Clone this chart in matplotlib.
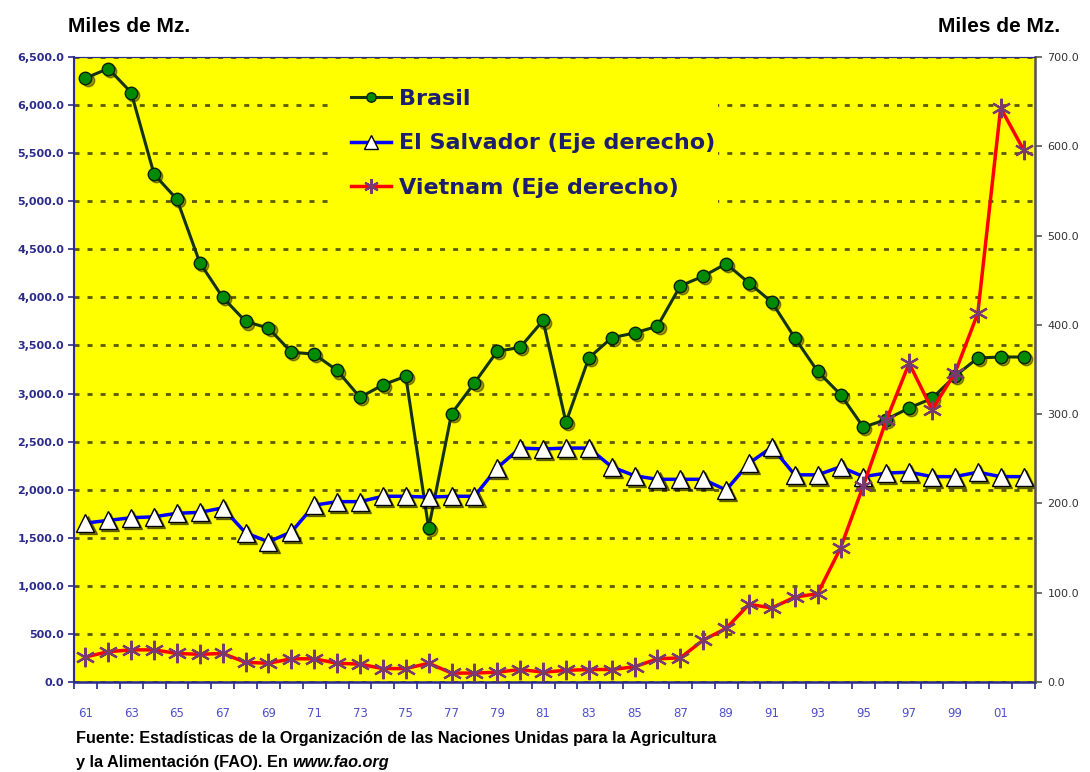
import numpy as np
import matplotlib
matplotlib.use('Agg')
import matplotlib.pyplot as plt
import matplotlib.transforms as mtransforms
from matplotlib.ticker import FuncFormatter, FixedLocator

# datos (miles de Mz.), 1961-2002
years = list(range(1961, 2003))
brasil = [6280, 6380, 6130, 5280, 5020, 4360, 4000, 3750, 3680, 3430,
          3410, 3240, 2960, 3090, 3180, 1600, 2790, 3110, 3440, 3480,
          3760, 2700, 3370, 3580, 3630, 3700, 4120, 4220, 4350, 4150,
          3950, 3580, 3230, 2990, 2650, 2730, 2850, 2950, 3180, 3370,
          3380, 3380]
el_salvador = [178, 181, 184, 185, 189, 190, 195, 167, 157, 168,
               198, 202, 202, 208, 208, 207, 208, 208, 240, 262,
               261, 262, 262, 241, 231, 227, 227, 227, 215, 245,
               263, 232, 232, 241, 230, 234, 235, 230, 230, 235,
               230, 230]
vietnam = [28, 34, 36, 36, 32, 31, 32, 22, 21, 26,
           26, 21, 20, 15, 15, 21, 10, 10, 11, 14,
           11, 13, 14, 14, 17, 26, 27, 47, 60, 87,
           83, 95, 99, 150, 220, 293, 357, 305, 346, 413,
           643, 596]
labels = ['%02d' % (y % 100) for y in years]

navy = '#2b2b8c'
font = 'Liberation Sans'
x = np.arange(len(years))

fig = plt.figure(figsize=(10.9, 7.72), dpi=100)
ax = fig.add_axes([74/1090, 1 - 682/772, 961/1090, 625/772])
ax.set_facecolor('#ffff00')
ax2 = ax.twinx()

# marker shadows (small offset down-right)
off = mtransforms.ScaledTranslation(1.5/72, -1.5/72, fig.dpi_scale_trans)
ax.plot(x, brasil, ls='none', marker='o', ms=9, mfc='black', mec='black', alpha=0.4,
        transform=ax.transData + off)
ax2.plot(x, el_salvador, ls='none', marker='^', ms=13, mfc='black', mec='black', alpha=0.5,
         transform=ax2.transData + off)

l1, = ax.plot(x, brasil, color='#143214', lw=2.2, marker='o', ms=9,
              mfc='#008a00', mec='#0a200a', mew=1, label='Brasil')
l2, = ax2.plot(x, el_salvador, color='#0000ff', lw=2.5, marker='^', ms=13,
               mfc='white', mec='black', mew=1, label='El Salvador (Eje derecho)')
l3, = ax2.plot(x, vietnam, color='#ff0000', lw=2.5, marker=(6, 2, 0), ms=14,
               mec='#7a3a6e', mew=1.6, label='Vietnam (Eje derecho)')

ax.set_xlim(-0.5, len(years) - 0.5)
ax.set_ylim(0, 6500)
ax2.set_ylim(0, 700)

ax.set_yticks(np.arange(0, 6501, 500))
ax.yaxis.set_major_formatter(FuncFormatter(lambda v, p: '{:,.1f}'.format(v)))
ax2.set_yticks(np.arange(0, 701, 100))
ax2.yaxis.set_major_formatter(FuncFormatter(lambda v, p: '{:.1f}'.format(v)))

ax.set_xticks(x[::2])
ax.set_xticklabels(labels[::2])
ax.xaxis.set_minor_locator(FixedLocator(np.arange(-0.5, len(years), 1)))
ax.tick_params(axis='x', which='major', length=0, pad=18, labelsize=8.5, labelcolor='#5050c8')
ax.tick_params(axis='x', which='minor', length=5, width=1.2, color=navy)
ax.tick_params(axis='y', length=4, width=1.2, color=navy, labelsize=8, labelcolor=navy, pad=3)
for t in ax.get_yticklabels():
    t.set_fontweight('bold')
ax2.tick_params(axis='y', length=5, width=1.2, color='#555555', labelsize=8, labelcolor='#333333', pad=4)

ax.grid(axis='y', color='#5a5a00', lw=2, linestyle=(0, (1.8, 2.9)))
ax.set_axisbelow(True)

for s in ['left', 'bottom', 'top']:
    ax.spines[s].set_color(navy)
    ax2.spines[s].set_color(navy)
ax.spines['left'].set_linewidth(1.5)
ax.spines['bottom'].set_linewidth(1.8)
ax2.spines['right'].set_color('#555555')
ax2.spines['right'].set_linewidth(1.8)

leg = ax2.legend(handles=[l1, l2, l3], loc='upper left',
                 bbox_to_anchor=(0.2685, 0.758, 0.402, 0.222), mode='expand',
                 borderaxespad=0, facecolor='#ffff00', edgecolor='none', framealpha=1,
                 fancybox=False, handlelength=1.8, handletextpad=0.36, borderpad=0.87,
                 labelspacing=1.1, markerscale=0.75,
                 prop={'size': 16, 'weight': 'bold'})
for t in leg.get_texts():
    t.set_color('#1e1e6e')

fig.text(68/1090, 1 - 26/772, 'Miles de Mz.', fontsize=15, fontweight='bold',
         family=font, va='center', ha='left')
fig.text(1060/1090, 1 - 26/772, 'Miles de Mz.', fontsize=15, fontweight='bold',
         family=font, va='center', ha='right')

fig.text(76/1090, 1 - 738/772,
         'Fuente: Estadísticas de la Organización de las Naciones Unidas para la Agricultura',
         fontsize=11.7, fontweight='bold', family=font, va='center', ha='left')
t2 = fig.text(76/1090, 1 - 762/772, 'y la Alimentación (FAO). En ',
              fontsize=11.7, fontweight='bold', family=font, va='center', ha='left')
fig.canvas.draw()
bb = t2.get_window_extent()
fig.text(bb.x1 / 1090, 1 - 762/772, 'www.fao.org', fontsize=11.7, fontweight='bold',
         style='italic', family=font, va='center', ha='left')

fig.savefig('out.png', dpi=100)
